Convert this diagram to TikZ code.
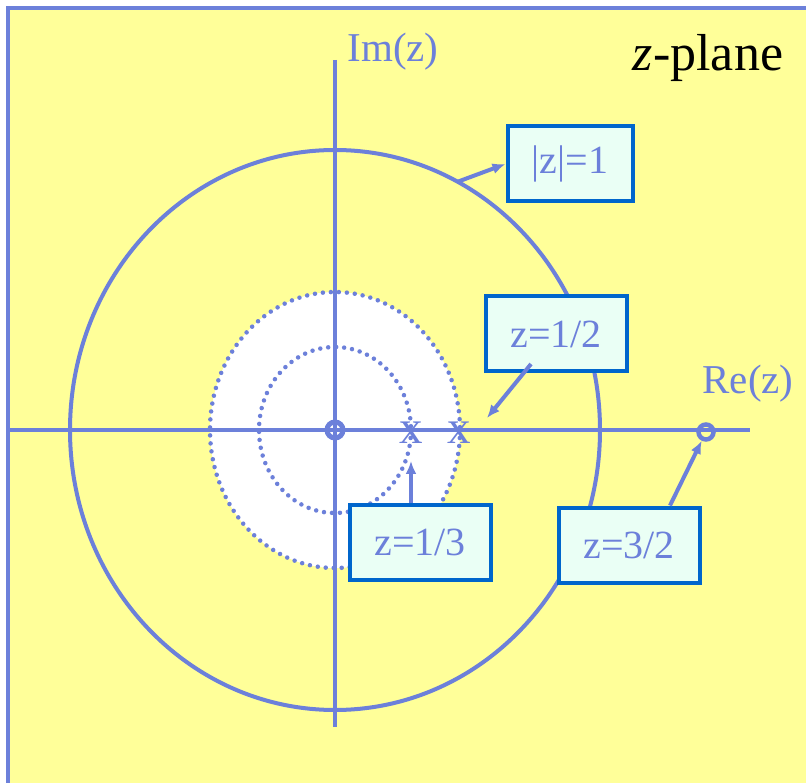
\documentclass[tikz,border=0pt]{standalone}
\usepackage{fontspec}
\setmainfont{Liberation Serif}
\usetikzlibrary{arrows.meta, positioning}
\definecolor{lineblue}{RGB}{108,128,218}
\definecolor{boxblue}{RGB}{0,102,204}
\definecolor{boxfill}{RGB}{234,255,245}
\definecolor{planeyellow}{RGB}{255,255,153}
\tikzset{
  axis/.style={line width=4pt, lineblue},
  contour/.style={line width=4pt, lineblue},
  dotcontour/.style={line width=4.5pt, lineblue, line cap=round, dash pattern=on 0pt off 8pt},
  tagbox/.style={draw=boxblue, line width=4pt, fill=boxfill, text=lineblue, minimum height=75pt, minimum width=141pt, inner sep=0pt, font=\fontsize{40}{48}\selectfont},
  axlabel/.style={text=lineblue, inner sep=0pt, font=\fontsize{41}{49}\selectfont},
  zero/.style={circle, draw=lineblue, line width=5pt, minimum size=16pt, inner sep=0pt},
  polemark/.style={text=lineblue, inner sep=0pt, font=\fontsize{47}{52}\selectfont},
  pointer/.style={-{Latex[length=13pt,width=11pt]}, line width=4pt, lineblue},
  every node/.style={font=\fontsize{40}{48}\selectfont}
}
\begin{document}
\begin{tikzpicture}[x=1pt, y=-1pt]
    \useasboundingbox (0,0) rectangle (806,783);
    \fill[planeyellow] (6,6) rectangle (806,783);
    \draw[line width=4pt, lineblue] (8,783) -- (8,8) -- (806,8);

    % region inside |z| = 1/2
    \coordinate (o) at (335,430);
    \fill[white] (o) ellipse [x radius=125, y radius=138];

    % axes
    \coordinate (reL) at (8,430);
    \coordinate (reR) at (750,430);
    \coordinate (imT) at (335,60);
    \coordinate (imB) at (335,727);
    \draw[axis] (reL) -- (reR);
    \draw[axis] (imT) -- (imB);
    \node[axlabel] (im) at (393,52) {Im(z)};
    \node[axlabel] (re) at (748,384) {Re(z)};
    \node[font=\fontsize{52}{60}\selectfont, inner sep=0pt] (plane) at (708,58) {\textit{z}-plane};

    % circles
    \draw[contour] (o) ellipse [x radius=265, y radius=280];
    \draw[dotcontour] (o) ellipse [x radius=125, y radius=138];
    \draw[dotcontour] (o) ellipse [x radius=76, y radius=83];

    % zeros and poles
    \node[zero] (z0) at (o) {};
    \node[zero, minimum size=15pt, line width=4.5pt] (z32) at (706,432) {};
    \node[polemark] (p13) at (411,433) {x};
    \node[polemark] (p12) at (459,433) {x};

    % tags
    \node[tagbox, minimum width=125pt] (unit) at (570,164) {|z|=1};
    \node[tagbox] (half) at (556,334) {z=1/2};
    \node[tagbox] (third) at (420,542) {z=1/3};
    \node[tagbox] (threehalf) at (629,545) {z=3/2};

    \coordinate (onunit) at (457,182);
    \coordinate (halfstart) at (531,364);
    \coordinate (halfend) at (487,418);
    \draw[pointer] (onunit) -- (unit.west);
    \draw[pointer] (halfstart) -- (halfend);
    \draw[pointer] (third.north -| p13) -- ([yshift=-17pt]p13.south);
    \draw[pointer] (threehalf.north -| 670,0) -- (z32);
\end{tikzpicture}
\end{document}
